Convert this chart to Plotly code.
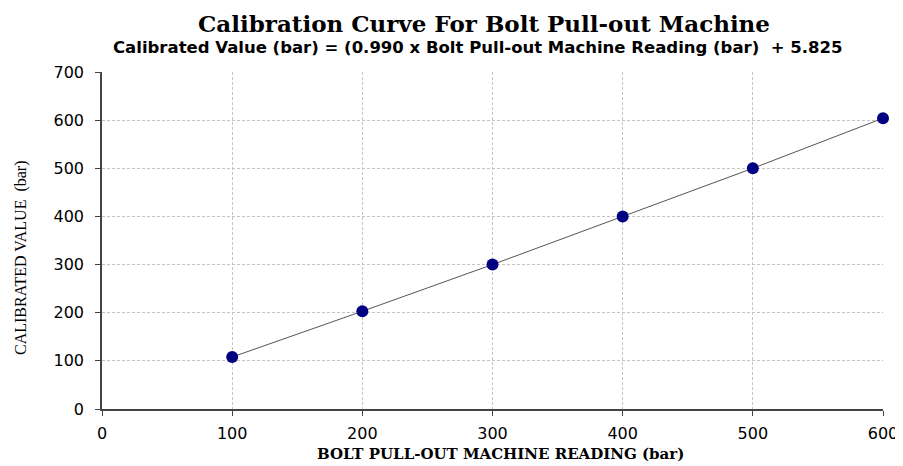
import plotly.graph_objects as go

machine_reading = [100, 200, 300, 400, 500, 600]
calibrated_value = [108, 203, 300, 400, 500, 604]
x_ticks = [0, 100, 200, 300, 400, 500, 600]
y_ticks = [0, 100, 200, 300, 400, 500, 600, 700]

# The page body has an 8px margin; size the figure so it fits the 903x466 window.
OFF = 8
W, H = 903 - OFF, 466 - OFF
L, R, T, B = 102 - OFF, 20, 72 - OFF, 57

fig = go.Figure()
fig.add_trace(go.Scatter(
    x=machine_reading, y=calibrated_value, mode="lines+markers",
    line=dict(color="#555555", width=1),
    marker=dict(color="#000080", size=12, line=dict(width=0)),
    showlegend=False, cliponaxis=False,
))

fig.update_layout(
    width=W, height=H,
    margin=dict(l=L, r=R, t=T, b=B, autoexpand=False),
    paper_bgcolor="white", plot_bgcolor="white",
    font=dict(family="DejaVu Sans", size=16, color="black"),
    xaxis=dict(
        range=[0, 600], tickvals=x_ticks, showline=True, linecolor="#444444", linewidth=1.5,
        ticks="outside", ticklen=5, tickcolor="#444444", automargin=False, ticklabelstandoff=4,
        showgrid=True, gridcolor="#c4c4c4", griddash="3px,2px", gridwidth=1, zeroline=False,
    ),
    yaxis=dict(
        range=[0, 700], tickvals=y_ticks, showline=True, linecolor="#444444", linewidth=1.5,
        ticks="outside", ticklen=5, tickcolor="#444444", automargin=False, ticklabelstandoff=8,
        showgrid=True, gridcolor="#c4c4c4", griddash="3px,2px", gridwidth=1, zeroline=False,
    ),
)

pw = W - L - R
ph = H - T - B
def px(x, y):
    # page pixel -> paper coords
    return (x - OFF - L) / pw, (H - B - (y - OFF)) / ph

def note(text, x, y, font, angle=0):
    xx, yy = px(x, y)
    fig.add_annotation(text=text, x=xx, y=yy, xref="paper", yref="paper", showarrow=False,
                       xanchor="center", yanchor="middle", textangle=angle, font=font)

note("<b>Calibration Curve For Bolt Pull-out Machine</b>", 484, 24,
     dict(family="DejaVu Serif", size=23, color="black"))
note("<b>Calibrated Value (bar) = (0.990 x Bolt Pull-out Machine Reading (bar)  + 5.825</b>", 478, 48,
     dict(family="DejaVu Sans", size=16.5, color="black"))
note("<b>BOLT PULL-OUT MACHINE READING (bar)</b>", 500, 454,
     dict(family="DejaVu Serif", size=15, color="black"))
note("CALIBRATED VALUE  (bar)", 21, 258,
     dict(family="Liberation Serif", size=16, color="black"), angle=-90)

fig.write_html("out.html")
